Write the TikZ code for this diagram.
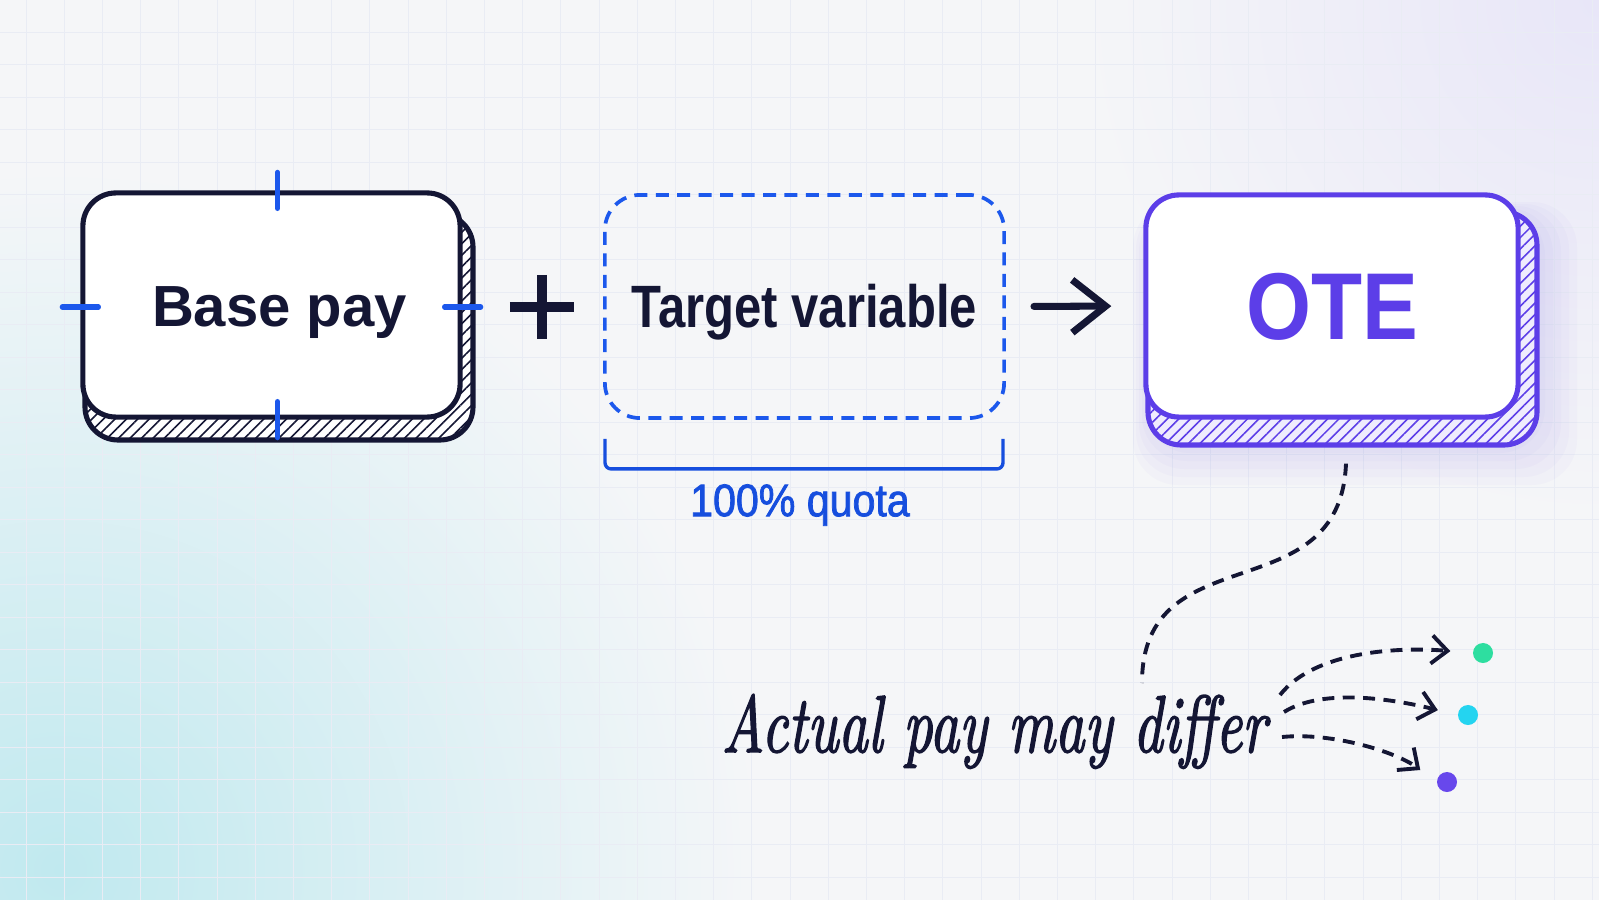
\documentclass[tikz,border=0pt]{standalone}
\usepackage{fontspec}
\usepackage{graphicx}
\usepackage{xcolor}
\usetikzlibrary{positioning, calc, arrows.meta, patterns.meta}
\newfontfamily\boxfont{Liberation Sans}
\newfontfamily\condfont{Liberation Sans}[FakeStretch=0.82]
\newfontfamily\otefont{Liberation Sans}[FakeStretch=0.88]
\newfontfamily\quotafont{Liberation Sans}[FakeStretch=0.9,FakeBold=1.6]
\newfontfamily\handfont{lmroman10-italic.otf}[FakeBold=2]
\definecolor{paper}{RGB}{245,246,248}
\definecolor{gridline}{RGB}{233,236,244}
\definecolor{ink}{RGB}{20,22,52}
\definecolor{tickblue}{RGB}{28,88,236}
\definecolor{quotablue}{RGB}{22,78,222}
\definecolor{otepurple}{RGB}{92,62,232}
\definecolor{dotgreen}{RGB}{46,222,160}
\definecolor{dotcyan}{RGB}{36,212,240}
\definecolor{dotpurple}{RGB}{104,72,236}
\definecolor{tealwash}{RGB}{192,233,239}
\definecolor{lilacwash}{RGB}{232,230,248}

\begin{document}
\begin{tikzpicture}[x=0.01cm, y=-0.01cm,
  box/.style={rounded corners=0.33cm, inner sep=0pt, fill=white, line width=1.45pt,
    text height=12pt, text depth=0pt},
  hatch/.style={rounded corners=0.33cm, line width=1.45pt,
    pattern={Lines[angle=45,distance=2.3pt,line width=0.45pt]}},
  tick/.style={tickblue, line width=1.5pt, line cap=round},
  flow/.style={ink, dash pattern=on 3.4pt off 2.4pt, line width=1.1pt},
  tip/.style={-{Straight Barb[length=4.5pt,width=8pt]}},
  dot/.style={circle, inner sep=0pt, minimum size=0.2cm}]
\useasboundingbox (0,0) rectangle (1599,900);

% paper, washes and grid
\fill[paper] (0,0) rectangle (1599,900);
\begin{scope}
\clip (0,0) rectangle (1599,900);
\shade[inner color=tealwash, outer color=paper] (60,870) circle (700);
\shade[inner color=lilacwash, outer color=paper] (1599,0) circle (520);
\end{scope}
\foreach \gx in {26,64.2,...,1599} \draw[gridline, line width=0.25pt] (\gx,0) -- (\gx,900);
\foreach \gy in {32,64.5,...,900} \draw[gridline, line width=0.25pt] (0,\gy) -- (1599,\gy);

% Base pay
\draw[hatch, draw=ink, pattern color=ink, preaction={fill=white}] (85,214) rectangle (473,440);
\node[box, draw=ink, minimum width=3.77cm, minimum height=2.24cm] (base) at (271.5,305)
  {\color{ink}\boxfont\bfseries\fontsize{16.5}{20}\selectfont\hspace{0.16cm}Base pay};
\draw[tick] ($(base.north)+(6,-18)$) -- ($(base.north)+(6,18)$);
\draw[tick] ($(base.south)+(6,-18)$) -- ($(base.south)+(6,18)$);
\draw[tick] ($(base.west)+(-18,2)$) -- ($(base.west)+(18,2)$);
\draw[tick] ($(base.east)+(-18,2)$) -- ($(base.east)+(18,2)$);

% plus
\node[minimum size=0.63cm, inner sep=0pt] (plus) at (542,307) {};
\draw[ink, line width=2.6pt] (plus.north) -- (plus.south) (plus.west) -- (plus.east);

% Target variable
\node[box, fill=none, draw=tickblue, line width=1.05pt, dash pattern=on 3.7pt off 2.4pt,
  rounded corners=0.35cm, minimum width=3.99cm, minimum height=2.23cm, text height=12.2pt] (tv) at (804.5,306.5)
  {\color{ink}\condfont\bfseries\fontsize{17}{20}\selectfont Target variable};
\draw[quotablue, line width=0.95pt, rounded corners=0.06cm]
  ($(tv.south west)+(2,19)$) -- ($(tv.south west)+(2,49)$) -- ($(tv.south east)+(-3,49)$) -- ($(tv.south east)+(-3,19)$);
\node (quota) at (800,505) {\color{quotablue}\quotafont\fontsize{13}{15}\selectfont 100\% quota};

% OTE
\foreach \g in {1,...,5}
  \fill[otepurple, opacity=0.025, rounded corners=0.45cm] ({1148-\g*3},{212-\g*2}) rectangle ({1537+\g*8},{445+\g*8});
\draw[hatch, draw=otepurple, pattern color=otepurple, preaction={fill=otepurple!10}] (1148,212) rectangle (1537,445);
\node[box, draw=otepurple, minimum width=3.72cm, minimum height=2.22cm, text height=19.3pt] (ote) at (1332,306)
  {\color{otepurple}\otefont\bfseries\fontsize{27}{30}\selectfont OTE};

\draw[-{Straight Barb[length=9.5pt,width=15pt]}, ink, line width=2pt, line cap=round,
  shorten <=0.28cm, shorten >=0.32cm] (tv.east) -- (ote.west);

% note and outcomes
\node[anchor=base, inner sep=0pt] (note) at (994,752)
  {\color{ink}\handfont\fontsize{16.4}{19}\selectfont\scalebox{1}[1.4]{Actual pay may differ}};
\coordinate (oteTail) at ($(ote.south)+(14,44)$);
\coordinate (noteTop) at (1142,683);
\draw[flow] (oteTail) .. controls +(-6,150) and +(0,-150) .. (noteTop);

\node[dot, fill=dotgreen] (d1) at (1483,653) {};
\node[dot, fill=dotcyan] (d2) at (1468,715) {};
\node[dot, fill=dotpurple] (d3) at (1447,782) {};
\coordinate (s1) at (1280,695);
\coordinate (s2) at (1284,712);
\coordinate (s3) at (1282,737);
\draw[flow, tip, shorten >=0.22cm] (s1) .. controls +(35,-45) and +(-70,-6) .. (d1.west);
\draw[flow, tip, shorten >=0.2cm] (s2) .. controls +(40,-25) and +(-60,-15) .. (d2.west);
\draw[flow, tip, shorten >=0.2cm] (s3) .. controls +(50,-5) and +(-40,-30) .. (d3.west);
\end{tikzpicture}
\end{document}
